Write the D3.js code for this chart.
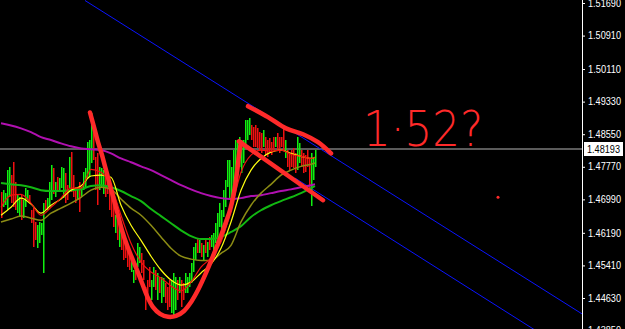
<!DOCTYPE html>
<html>
<head>
<meta charset="utf-8">
<script src="https://cdn.jsdelivr.net/npm/d3@7"></script>
<style>
  html, body { margin: 0; padding: 0; background: #000; }
  svg { display: block; }
</style>
</head>
<body>
<svg id="chart" width="625" height="329"></svg>
<script>
// bar highs / lows (one bar every 2px), colour by direction
var highs = [
  1.4716,1.4721,1.4714,1.4769,1.4776,1.4757,1.4788,1.4740,1.4709,1.4704,1.4709,1.4697,1.4726,1.4721,1.4709,1.4673,1.4678,1.4644,1.4637,1.4644,
  1.4642,1.4690,1.4697,1.4702,1.4740,1.4781,1.4774,1.4740,1.4752,1.4750,1.4776,1.4774,1.4762,1.4733,1.4800,1.4812,1.4757,1.4728,1.4728,1.4740,
  1.4728,1.4764,1.4774,1.4836,1.4841,1.4905,1.4881,1.4800,1.4810,1.4776,1.4774,1.4769,1.4752,1.4745,1.4728,1.4711,1.4697,1.4661,1.4649,1.4632,
  1.4618,1.4601,1.4601,1.4577,1.4570,1.4560,1.4530,1.4546,1.4594,1.4584,1.4570,1.4553,1.4489,1.4506,1.4537,1.4506,1.4537,
  1.4530,1.4523,1.4513,1.4513,1.4511,1.4499,1.4489,1.4506,1.4506,1.4523,1.4513,1.4506,1.4513,1.4506,1.4499,1.4523,1.4513,1.4523,1.4546,1.4584,
  1.4594,1.4606,1.4601,1.4594,1.4589,1.4601,1.4596,1.4608,1.4613,1.4618,1.4642,1.4666,1.4690,1.4673,1.4721,1.4745,1.4793,
  1.4793,1.4776,1.4817,1.4841,1.4841,1.4848,1.4841,1.4841,1.4888,1.4888,1.4893,1.4876,1.4872,1.4876,1.4869,1.4860,1.4857,1.4864,1.4848,1.4841,
  1.4845,1.4836,1.4848,1.4848,1.4857,1.4848,1.4848,1.4876,1.4841,1.4817,1.4810,1.4817,1.4821,1.4810,1.4848,1.4833,1.4817,1.4810,1.4805,1.4817,
  1.4798,1.4810,1.4798,1.4817
];
var lows = [
  1.4654,1.4680,1.4685,1.4673,1.4704,1.4690,1.4680,1.4673,1.4666,1.4656,1.4649,1.4654,1.4680,1.4697,1.4690,1.4642,1.4584,1.4601,1.4582,1.4594,
  1.4613,1.4523,1.4673,1.4673,1.4680,1.4697,1.4711,1.4704,1.4716,1.4716,1.4726,1.4702,1.4690,1.4697,1.4726,1.4716,1.4704,1.4690,1.4697,1.4668,
  1.4704,1.4721,1.4728,1.4750,1.4752,1.4786,1.4793,1.4721,1.4685,1.4721,1.4728,1.4711,1.4704,1.4711,1.4673,1.4656,1.4632,1.4618,1.4601,1.4584,
  1.4577,1.4553,1.4558,1.4537,1.4530,1.4523,1.4499,1.4506,1.4537,1.4546,1.4523,1.4506,1.4434,1.4465,1.4489,1.4458,1.4489,
  1.4482,1.4458,1.4475,1.4451,1.4465,1.4451,1.4434,1.4441,1.4427,1.4417,1.4434,1.4458,1.4475,1.4441,1.4458,1.4475,1.4475,1.4489,1.4499,1.4523,
  1.4553,1.4570,1.4570,1.4560,1.4553,1.4570,1.4560,1.4577,1.4584,1.4577,1.4594,1.4608,1.4632,1.4625,1.4656,1.4680,1.4728,
  1.4697,1.4680,1.4728,1.4728,1.4776,1.4776,1.4762,1.4786,1.4824,1.4841,1.4853,1.4841,1.4824,1.4824,1.4821,1.4817,1.4810,1.4824,1.4805,1.4800,
  1.4812,1.4805,1.4817,1.4824,1.4817,1.4810,1.4824,1.4817,1.4798,1.4776,1.4769,1.4776,1.4774,1.4762,1.4769,1.4786,1.4776,1.4762,1.4764,1.4776,
  1.4721,1.4683,1.4745,1.4776
];
var dirs = ("RGGGGRRRGGRGGGRRRRGGGGRGGGRGRGGGRRGRRRGR" +
            "GGGGGGRRRGGGRRRRRGRGRRRRRGGRGGRRRRRGG" +
            "RGRGGRRRGGGRGRRGGGGGGRGRGRGRGGGGGGGGG" +
            "GGGGGGGGGGGRRRRRRGRRRRRGRRRRGRRRRRGGRRRRRGGG").split("");

// moving averages, sampled at these bar indexes
var maIdx = [0,5,10,15,20,25,30,35,40,45,50,55,60,65,70,75,80,85,90,95,100,105,110,115,120,125,130,135,140,145,150,155,157];
var maPurple = [1.4881,1.4876,1.4869,1.4860,1.4848,1.4841,1.4833,1.4826,1.4821,1.4819,1.4817,1.4809,1.4797,1.4788,1.4778,1.4769,1.4757,
                1.4745,1.4733,1.4723,1.4714,1.4707,1.4702,1.4700,1.4702,1.4707,1.4709,1.4714,1.4719,1.4723,1.4728,1.4733,1.4735];
var maGreen  = [1.4738,1.4735,1.4733,1.4728,1.4721,1.4719,1.4719,1.4721,1.4723,1.4731,1.4733,1.4728,1.4719,1.4707,1.4695,1.4676,1.4659,
                1.4642,1.4625,1.4611,1.4604,1.4604,1.4609,1.4621,1.4635,1.4657,1.4673,1.4685,1.4695,1.4704,1.4714,1.4726,1.4731];
var maOlive  = [1.4645,1.4652,1.4659,1.4654,1.4649,1.4666,1.4678,1.4690,1.4704,1.4721,1.4728,1.4723,1.4700,1.4678,1.4661,1.4637,1.4609,
                1.4582,1.4563,1.4556,1.4553,1.4553,1.4570,1.4589,1.4645,1.4685,1.4714,1.4735,1.4757,1.4769,1.4778,1.4783,1.4786];
var maYellow = [1.4661,1.4680,1.4702,1.4688,1.4666,1.4685,1.4700,1.4721,1.4731,1.4755,1.4757,1.4752,1.4685,1.4637,1.4601,1.4563,1.4530,
                1.4506,1.4494,1.4501,1.4523,1.4544,1.4582,1.4645,1.4721,1.4769,1.4797,1.4812,1.4817,1.4809,1.4802,1.4797,1.4800];
var maRed    = [1.4680,1.4709,1.4711,1.4690,1.4661,1.4680,1.4702,1.4726,1.4726,1.4771,1.4764,1.4731,1.4661,1.4594,1.4549,1.4525,1.4511,
                1.4492,1.4480,1.4501,1.4537,1.4559,1.4597,1.4673,1.4764,1.4805,1.4817,1.4814,1.4817,1.4807,1.4802,1.4797,1.4800];

var priceTicks = [1.51690,1.50910,1.50110,1.49330,1.48550,1.47770,1.46990,1.46190,1.45410,1.44630,1.43850];
var lastPrice = 1.48193;

// channel (blue) and hand drawn marks, in [bar index, price]
var channelUpper = [[42, 1.5175], [290.5, 1.4425]];
var channelLower = [[147, 1.4750], [290.5, 1.4315]];
var cupLine = [[44.5,1.4907],[46.5,1.4872],[48.5,1.4836],[50.5,1.4805],[52.5,1.4769],[54.5,1.4733],[56.5,1.4697],[58.5,1.4661],
  [60.5,1.4625],[63,1.4589],[65.5,1.4559],[68,1.4530],[70.5,1.4499],[73,1.4468],[76,1.4441],[79.5,1.4425],[83.5,1.4418],[87.5,1.4420],
  [91.5,1.4432],[95,1.4453],[98.5,1.4482],[102.5,1.4523],[106,1.4563],[109.5,1.4606],[112.5,1.4645],[114.5,1.4673],[116.5,1.4716],
  [118,1.4764],[119,1.4805],[120,1.4836]];
var wedgeLow = [[119,1.4838],[161,1.4697]];
var wedgeHigh = [[123.5,1.4922],[133.5,1.4896],[142.5,1.4869],[151,1.4855],[158.5,1.4836],[165,1.4809]];
var noteText = "1·52?";
var noteAt = [181, 1.4826];
var strayDots = [[248.5, 1.4704]];

var W = 625, H = 329, axisX = 582;
var svg = d3.select("#chart");
svg.append("rect").attr("width", W).attr("height", H).attr("fill", "#000");

var x = d3.scaleLinear().domain([0, 290.5]).range([1, axisX]);
var y = d3.scaleLinear().domain([1.4463, 1.5169]).range([298, 3]);

svg.append("clipPath").attr("id", "plot")
  .append("rect").attr("width", axisX).attr("height", H);
var g = svg.append("g").attr("clip-path", "url(#plot)");

// bid line
g.append("line")
  .attr("x1", 0).attr("x2", axisX)
  .attr("y1", y(lastPrice)).attr("y2", y(lastPrice))
  .attr("stroke", "#7a7a7a").attr("stroke-width", 1.5);

var line = d3.line().x(function(d) { return x(d[0]); }).y(function(d) { return y(d[1]); });

g.selectAll(".chan")
  .data([channelUpper, channelLower])
  .enter().append("path")
  .attr("d", line)
  .attr("fill", "none").attr("stroke", "#0a14ff").attr("stroke-width", 1);

// bars
g.selectAll(".bar")
  .data(highs)
  .enter().append("rect")
  .attr("x", function(d, i) { return Math.round(x(i)); })
  .attr("width", 1.5)
  .attr("y", function(d) { return Math.round(y(d)); })
  .attr("height", function(d, i) { return Math.max(1, Math.round(y(lows[i]) - y(d))); })
  .attr("fill", function(d, i) { return dirs[i] === "G" ? "#10f010" : "#f01010"; });

// moving averages
var maLine = d3.line()
  .x(function(d, i) { return x(maIdx[i]); })
  .y(function(d) { return y(d); })
  .curve(d3.curveMonotoneX);

var mas = [
  { v: maPurple, c: "#b010b0", w: 2 },
  { v: maGreen,  c: "#12b812", w: 2 },
  { v: maOlive,  c: "#8c8c14", w: 1.5 },
  { v: maYellow, c: "#ffff10", w: 1.2 },
  { v: maRed,    c: "#f01010", w: 1.2 }
];
g.selectAll(".ma")
  .data(mas)
  .enter().append("path")
  .attr("d", function(d) { return maLine(d.v); })
  .attr("fill", "none")
  .attr("stroke", function(d) { return d.c; })
  .attr("stroke-width", function(d) { return d.w; });

// hand drawn annotation
var pen = "#ff2a2a";
var smooth = d3.line().x(function(d) { return x(d[0]); }).y(function(d) { return y(d[1]); }).curve(d3.curveCatmullRom);
g.selectAll(".pen")
  .data([cupLine, wedgeLow, wedgeHigh])
  .enter().append("path")
  .attr("d", smooth)
  .attr("fill", "none").attr("stroke", pen)
  .attr("stroke-width", 4.5).attr("stroke-linecap", "round").attr("stroke-linejoin", "round");

g.append("text")
  .attr("x", x(noteAt[0]))
  .attr("y", y(noteAt[1]))
  .attr("font-family", "DejaVu Sans, sans-serif")
  .attr("font-weight", 200)
  .attr("font-size", 50)
  .attr("textLength", 120)
  .attr("lengthAdjust", "spacingAndGlyphs")
  .attr("fill", pen)
  .text(noteText);

g.selectAll(".dot")
  .data(strayDots)
  .enter().append("circle")
  .attr("cx", function(d) { return x(d[0]); })
  .attr("cy", function(d) { return y(d[1]); })
  .attr("r", 1.5).attr("fill", pen);

// price axis
svg.append("line")
  .attr("x1", axisX + 0.5).attr("x2", axisX + 0.5)
  .attr("y1", 0).attr("y2", H)
  .attr("stroke", "#fff").attr("stroke-width", 1);

var fmt = d3.format(".5f");
var axis = svg.append("g")
  .attr("transform", "translate(" + axisX + ",0)")
  .call(d3.axisRight(y).tickValues(priceTicks).tickSize(3).tickSizeOuter(0).tickPadding(3).tickFormat(fmt));
axis.select(".domain").remove();
axis.selectAll(".tick line").attr("stroke", "#fff");
axis.selectAll(".tick text")
  .attr("fill", "#fff")
  .attr("font-family", "Liberation Sans, Arial, sans-serif")
  .attr("font-size", 10)
  .attr("textLength", 33)
  .attr("lengthAdjust", "spacingAndGlyphs");

// current price label
svg.append("rect")
  .attr("x", axisX + 2).attr("y", Math.round(y(lastPrice)) - 7)
  .attr("width", 39).attr("height", 14)
  .attr("fill", "#fff");
svg.append("text")
  .attr("x", axisX + 5).attr("y", Math.round(y(lastPrice)) + 4)
  .attr("font-family", "Liberation Sans, Arial, sans-serif")
  .attr("font-size", 10).attr("fill", "#000")
  .attr("textLength", 33).attr("lengthAdjust", "spacingAndGlyphs")
  .text(fmt(lastPrice));
</script>
</body>
</html>
